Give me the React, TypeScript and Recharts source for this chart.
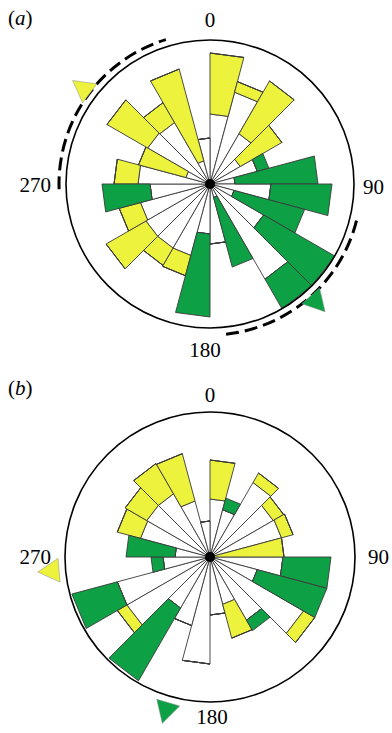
import { RadialBarChart, RadialBar, PolarAngleAxis, PolarRadiusAxis } from "recharts";

// 15 degree bins, clockwise from north
const bins = ["0", "15", "30", "45", "60", "75", "90", "105", "120", "135", "150", "165",
  "180", "195", "210", "225", "240", "255", "270", "285", "300", "315", "330", "345"];

// panel (a): white inner part, then yellow or green outer part (outer radius)
const aWhite = [70, 95, 58, 35, 49, 25, 61, 25, 62, 110, 14, 60, 50, 74, 74, 74, 72, 60, 72, 25, 72, 71, 24, 46];
const aYellow = [131, 106, 119, 83, null, null, null, null, null, null, null, null, null, 95, 94, 120, 94, null, 96, 74, 119, 94, 119, null];
const aGreen = [null, null, null, null, 61, 108, 122, 98, 145, 145, 86, null, 133, null, null, null, null, 108, null, null, null, null, null, null];

// panel (b)
const bWhite = [58, 49, 86, 73, 74, 4, 73, 49, 108, 73, 49, 58, 107, 71, 59, 96, 96, 47, 35, 72, 73, 73, 58, 36];
const bYellow = [97, null, 97, 85, 86, 74, null, null, 121, null, 84, null, null, null, null, 107, null, null, null, 96, 98, 108, 107, null];
const bGreen = [null, 61, null, null, null, null, 121, 121, null, 85, null, null, null, null, 143, null, 143, 59, 84, null, null, null, null, null];

// mean directions (triangles) and confidence arcs, degrees
const aMeans = [{ angle: 307, color: "yellow" }, { angle: 138, color: "green" }];
const aArcs = [[268, 343], [104, 174]];
const bMeans = [{ angle: 265, color: "yellow" }, { angle: 196, color: "green" }];
const bArcs: number[][] = [];

const YELLOW = "#EDF23C";
const GREEN = "#0DA045";
const EDGE = "#3a3a3a";

type Num = number | null;

function buildRows(white: number[], yellow: Num[], green: Num[]) {
  return bins.map((bin, i) => ({
    bin,
    white: white[i],
    yellow: yellow[i] != null ? (yellow[i] as number) - white[i] : 0,
    green: green[i] != null ? (green[i] as number) - white[i] : 0,
  }));
}

function polar(cx: number, cy: number, r: number, deg: number) {
  const a = (deg * Math.PI) / 180;
  return [cx + r * Math.sin(a), cy - r * Math.cos(a)];
}

// flat-ended wedge (chords instead of arcs), from the sector geometry recharts computes
function FlatWedge(props: any) {
  const { cx, cy, innerRadius, outerRadius, startAngle, endAngle, fill } = props;
  if (cx == null || outerRadius == null) return <g />;
  const pt = (r: number, a: number) => {
    const rad = (a * Math.PI) / 180;
    return `${cx + r * Math.cos(rad)},${cy - r * Math.sin(rad)}`;
  };
  const d = `M${pt(innerRadius, startAngle)} L${pt(outerRadius, startAngle)} L${pt(outerRadius, endAngle)} L${pt(innerRadius, endAngle)} Z`;
  return <path d={d} fill={fill} stroke={EDGE} strokeWidth={0.9} strokeLinejoin="round" />;
}

function Rose({ rows, top, height, cx, cy, r }: any) {
  return (
    <div style={{ position: "absolute", left: 0, top }}>
      <RadialBarChart
        width={392}
        height={height}
        data={rows}
        layout="centric"
        cx={cx}
        cy={cy - top}
        innerRadius={0}
        outerRadius={r}
        startAngle={75}
        endAngle={-285}
        barCategoryGap={0}
        barGap={0}
        margin={{ top: 0, right: 0, bottom: 0, left: 0 }}
      >
        <PolarAngleAxis type="category" dataKey="bin" tick={false} axisLine={false} tickLine={false} />
        <PolarRadiusAxis type="number" domain={[0, r]} tick={false} axisLine={false} tickLine={false} />
        <RadialBar dataKey="white" stackId="s" fill="#ffffff" shape={FlatWedge} isAnimationActive={false} />
        <RadialBar dataKey="yellow" stackId="s" fill={YELLOW} shape={FlatWedge} isAnimationActive={false} />
        <RadialBar dataKey="green" stackId="s" fill={GREEN} shape={FlatWedge} isAnimationActive={false} />
      </RadialBarChart>
    </div>
  );
}

function Decor({ cx, cy, r, means, arcs }: any) {
  return (
    <g>
      <circle cx={cx} cy={cy} r={r} fill="none" stroke="#000" strokeWidth={1.6} />
      {arcs.map(([a1, a2]: number[], i: number) => {
        const ar = r + 7;
        const [x1, y1] = polar(cx, cy, ar, a1);
        const [x2, y2] = polar(cx, cy, ar, a2);
        const large = a2 - a1 > 180 ? 1 : 0;
        return (
          <path key={i} d={`M${x1},${y1} A${ar},${ar} 0 ${large} 1 ${x2},${y2}`}
            fill="none" stroke="#000" strokeWidth={3} strokeDasharray="13 6" />
        );
      })}
      {means.map((m: any, i: number) => {
        const p1 = polar(cx, cy, r + 7, m.angle - 4.5);
        const p2 = polar(cx, cy, r + 7, m.angle + 4.5);
        const p3 = polar(cx, cy, r + 28, m.angle);
        return (
          <polygon key={i} points={`${p1.join(",")} ${p2.join(",")} ${p3.join(",")}`}
            fill={m.color === "yellow" ? YELLOW : GREEN} stroke="#888" strokeWidth={0.5} />
        );
      })}
      <circle cx={cx} cy={cy} r={5} fill="#000" />
    </g>
  );
}

const labelStyle = { fontFamily: "'Liberation Serif', 'DejaVu Serif', serif", fontSize: 21, fill: "#000" };

export default function App() {
  const A = { cx: 210, cy: 184, r: 144 };
  const B = { cx: 210, cy: 557, r: 145 };
  return (
    <div style={{ position: "absolute", left: 0, top: 0, width: 392, height: 733, background: "#fff" }}>
      <Rose rows={buildRows(aWhite, aYellow, aGreen)} top={0} height={366} {...A} />
      <Rose rows={buildRows(bWhite, bYellow, bGreen)} top={366} height={367} {...B} />
      <svg width={392} height={733} style={{ position: "absolute", left: 0, top: 0, pointerEvents: "none" }}>
        <Decor {...A} means={aMeans} arcs={aArcs} />
        <Decor {...B} means={bMeans} arcs={bArcs} />
        <text x={8} y={25} style={labelStyle}>(<tspan fontStyle="italic">a</tspan>)</text>
        <text x={210} y={27} textAnchor="middle" style={labelStyle}>0</text>
        <text x={51} y={192} textAnchor="end" style={labelStyle}>270</text>
        <text x={363} y={194} style={labelStyle}>90</text>
        <text x={205} y={357} textAnchor="middle" style={labelStyle}>180</text>
        <text x={8} y={395} style={labelStyle}>(<tspan fontStyle="italic">b</tspan>)</text>
        <text x={210} y={402} textAnchor="middle" style={labelStyle}>0</text>
        <text x={51} y={564} textAnchor="end" style={labelStyle}>270</text>
        <text x={368} y={564} style={labelStyle}>90</text>
        <text x={212} y={724} textAnchor="middle" style={labelStyle}>180</text>
      </svg>
    </div>
  );
}
